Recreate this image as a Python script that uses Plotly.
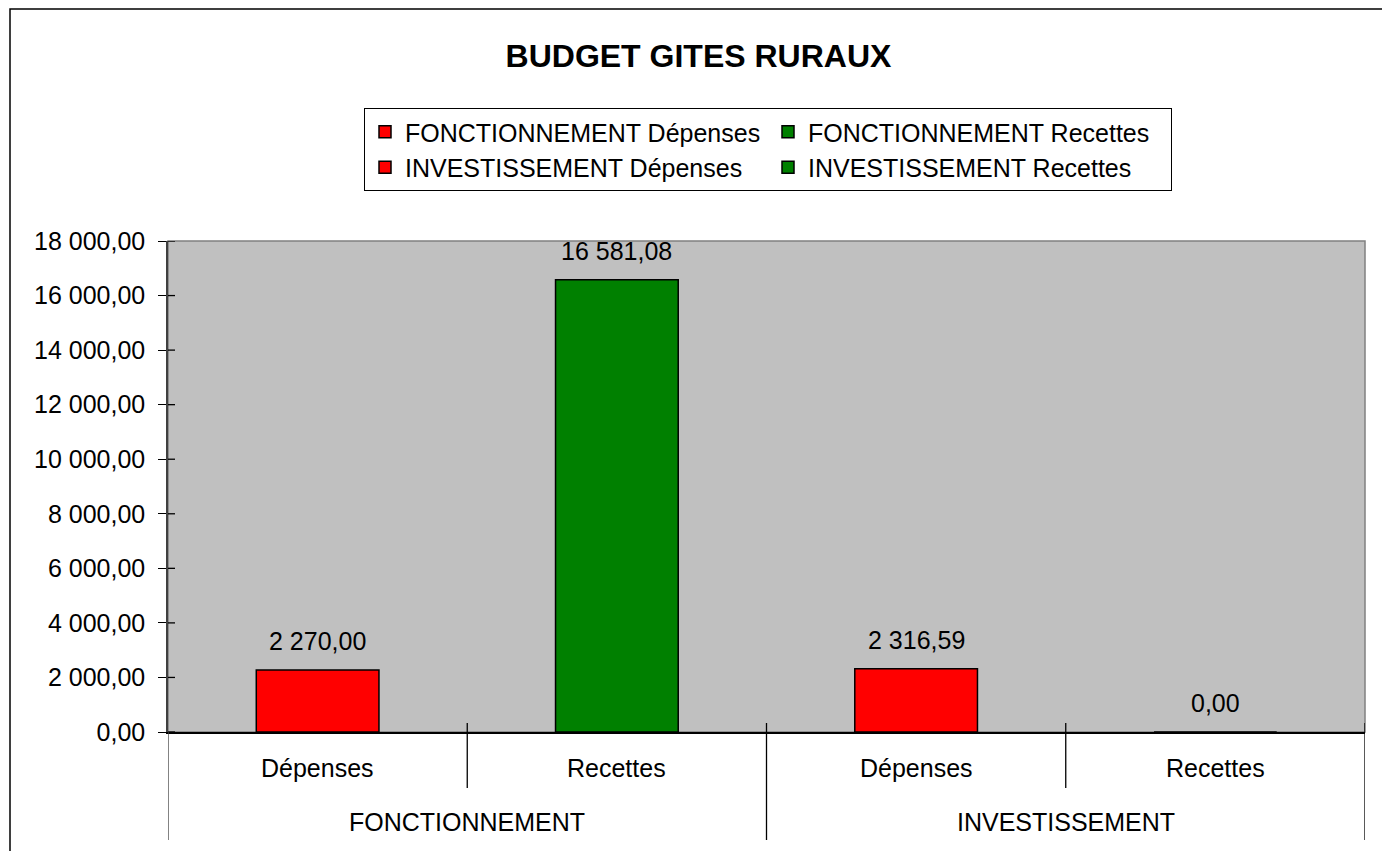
import plotly.graph_objects as go

# ---- data ----
groups = ["FONCTIONNEMENT", "FONCTIONNEMENT", "INVESTISSEMENT", "INVESTISSEMENT"]
subcats = ["Dépenses", "Recettes", "Dépenses", "Recettes"]
values = [2270.00, 16581.08, 2316.59, 0.00]
series_names = ["FONCTIONNEMENT Dépenses", "FONCTIONNEMENT Recettes",
                "INVESTISSEMENT Dépenses", "INVESTISSEMENT Recettes"]
colors = ["#FF0000", "#008000", "#FF0000", "#008000"]
y_ticks = [0, 2000, 4000, 6000, 8000, 10000, 12000, 14000, 16000, 18000]
title_text = "BUDGET GITES RURAUX"


def fr(v):
    s = f"{v:,.2f}"
    return s.replace(",", " ").replace(".", ",")


FONT = "Liberation Sans, Arial, sans-serif"
W, H = 1374, 843
# plot area in figure px
PL, PR, PT, PB = 160, 1357, 233, 724
pw, ph = PR - PL, PB - PT

fig = go.Figure()
positions = list(range(len(values)))
for i, (name, v, c) in enumerate(zip(series_names, values, colors)):
    fig.add_trace(go.Bar(
        x=[positions[i]], y=[v], name=name, width=0.41,
        marker=dict(color=c, line=dict(color="black", width=1.5)),
        showlegend=True,
    ))
    fig.add_annotation(x=positions[i], y=v, xref="x", yref="y", text=fr(v),
                       showarrow=False, yshift=29, yanchor="middle",
                       font=dict(size=25, color="black", family=FONT))

# category labels
for i, sc in enumerate(subcats):
    fig.add_annotation(x=positions[i], y=0, xref="x", yref="paper", text=sc,
                       showarrow=False, yshift=-36, yanchor="middle",
                       font=dict(size=25, color="black", family=FONT))
group_names = []
for g in groups:
    if g not in group_names:
        group_names.append(g)
for g in group_names:
    idx = [i for i, gg in enumerate(groups) if gg == g]
    cx = (positions[idx[0]] + positions[idx[-1]]) / 2
    fig.add_annotation(x=cx, y=0, xref="x", yref="paper", text=g,
                       showarrow=False, yshift=-90, yanchor="middle",
                       font=dict(size=25, color="black", family=FONT))


def py(px_from_bottom):
    return px_from_bottom / ph


# dividers
for i in range(len(values) + 1):
    xb = i - 0.5
    if i == 0 or i == len(values) or groups[i] != groups[i - 1]:
        y0, y1 = (0 if i == 0 else py(9)), py(-108)
        col = "#404040" if i == 0 else "black"
    else:
        y0, y1 = py(9), py(-56)
        col = "black"
    fig.add_shape(type="line", xref="x", yref="paper", x0=xb, x1=xb, y0=y0, y1=y1,
                  line=dict(color=col, width=1.3))

# inner half of the crossing y ticks
for t in y_ticks:
    fig.add_shape(type="line", xref="paper", yref="y", x0=0, x1=7 / pw, y0=t, y1=t,
                  line=dict(color="black", width=1.3))

# plot area border (gray)
fig.add_shape(type="rect", xref="paper", yref="paper", x0=0, x1=1, y0=0, y1=1,
              line=dict(color="#808080", width=1.5), layer="below")

# outer frame (left, top, right)
fig.add_shape(type="path", xref="paper", yref="paper",
              path="M {x0},{yb} L {x0},{yt} L {x1},{yt} L {x1},{yb}".format(
                  x0=(2 - PL) / pw, x1=(1375 - PL) / pw,
                  yt=(PB - 1) / ph, yb=-(H + 5 - PB) / ph),
              line=dict(color="black", width=1.5))

fig.update_layout(
    width=W, height=H,
    margin=dict(l=PL, r=W - PR, t=PT, b=H - PB, pad=0),
    paper_bgcolor="white", plot_bgcolor="#C0C0C0",
    barmode="overlay",
    font=dict(family=FONT, size=25, color="black"),
    title=dict(text="<b>" + title_text + "</b>", x=698.5 / 1390, y=1 - 48 / H,
               xref="container", yref="container", xanchor="center", yanchor="middle",
               font=dict(size=32, family=FONT, color="black")),
    legend=dict(orientation="h", x=(356 - PL) / pw, y=(PB - 100) / ph,
                xanchor="left", yanchor="top", bgcolor="white",
                bordercolor="black", borderwidth=1, entrywidth=358,
                entrywidthmode="pixels", traceorder="normal",
                font=dict(size=25, family=FONT, color="black")),
    xaxis=dict(range=[-0.5, len(values) - 0.5], tickvals=[], showticklabels=False,
               showgrid=False, zeroline=False, showline=True, linecolor="black",
               linewidth=1.5, fixedrange=True),
    yaxis=dict(range=[0, 18000], tickvals=y_ticks, ticktext=[fr(t) for t in y_ticks],
               ticks="outside", ticklen=8, tickcolor="black", tickwidth=1.3,
               showgrid=False, zeroline=False, showline=True, linecolor="#404040",
               linewidth=1.5, ticklabelstandoff=8,
               tickfont=dict(size=25, family=FONT, color="black")),
)

fig.write_html("out.html")
